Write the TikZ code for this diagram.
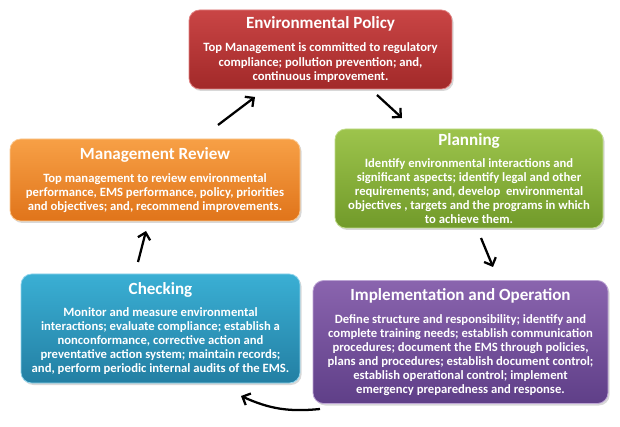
\documentclass[tikz,border=0pt]{standalone}
\usepackage{fontspec}
\setmainfont{Carlito}
\usetikzlibrary{arrows.meta,shadows}
\newcommand\boxtitle{\fontsize{12.8}{15}\selectfont}
\tikzset{
  stagebox/.style={rectangle, rounded corners=8pt, text=white, align=center,
    inner sep=0pt, font=\bfseries\fontsize{9.5}{10.5}\selectfont,
    drop shadow={opacity=0.3,shadow xshift=1.2pt,shadow yshift=-1.5pt}},
  flow/.style={line width=1.7pt, draw=black, -{Straight Barb[length=4.8pt,width=9.5pt]}},
}
\definecolor{redT}{HTML}{C94545}\definecolor{redB}{HTML}{A22929}\definecolor{redE}{HTML}{E08080}
\definecolor{grnT}{HTML}{9DC44C}\definecolor{grnB}{HTML}{719A2A}\definecolor{grnE}{HTML}{C0DC8A}
\definecolor{orgT}{HTML}{F7A046}\definecolor{orgB}{HTML}{E0741A}\definecolor{orgE}{HTML}{FAC890}
\definecolor{bluT}{HTML}{3AAFD4}\definecolor{bluB}{HTML}{237FA3}\definecolor{bluE}{HTML}{90D4EC}
\definecolor{purT}{HTML}{8A64AE}\definecolor{purB}{HTML}{5F3F88}\definecolor{purE}{HTML}{BCA4D4}
\begin{document}
\begin{tikzpicture}[x=0.75pt,y=-0.75pt]
\useasboundingbox (0,0) rectangle (620,427);
\fill[white] (0,0) rectangle (620,427);

\node[stagebox, top color=redT, bottom color=redB, draw=redE, line width=0.6pt,
  font=\bfseries\fontsize{9.5}{10.9}\selectfont,
  minimum width=197.25pt, minimum height=59.25pt] (policy) at (320.5,49.5)
  {{\boxtitle Environmental Policy}\\[6.8pt]
   Top Management is committed to regulatory\\
   compliance; pollution prevention; and,\\
   continuous improvement.};

\node[stagebox, top color=grnT, bottom color=grnB, draw=grnE, line width=0.6pt,
  minimum width=201pt, minimum height=74.25pt] (planning) at (469,178.5)
  {{\boxtitle Planning}\\[6.5pt]
   Identify environmental interactions and\\
   significant aspects; identify legal and other\\
   requirements; and, develop\ \ environmental\\
   objectives , targets and the programs in which\\
   to achieve them.};

\node[stagebox, top color=orgT, bottom color=orgB, draw=orgE, line width=0.6pt,
  minimum width=217.5pt, minimum height=61.5pt] (review) at (155,180)
  {{\boxtitle Management Review}\\[6.5pt]
   Top management to review environmental\\
   performance, EMS performance, policy, priorities\\
   and objectives; and, recommend improvements.};

\node[stagebox, top color=bluT, bottom color=bluB, draw=bluE, line width=0.6pt,
  minimum width=209.25pt, minimum height=81.75pt] (checking) at (160.5,328.5)
  {{\boxtitle Checking}\\[6.5pt]
   Monitor and measure environmental\\
   interactions; evaluate compliance; establish a\\
   nonconformance, corrective action and\\
   preventative action system; maintain records;\\
   and, perform periodic internal audits of the EMS.};

\node[stagebox, top color=purT, bottom color=purB, draw=purE, line width=0.6pt,
  minimum width=221.25pt, minimum height=92.25pt] (implement) at (460.5,342)
  {{\boxtitle Implementation and Operation}\\[6.5pt]
   Define structure and responsibility; identify and\\
   complete training needs; establish communication\\
   procedures; document the EMS through policies,\\
   plans and procedures; establish document control;\\
   establish operational control; implement\\
   emergency preparedness and response.};

\coordinate (a1s) at (218,125); \coordinate (a1e) at (255,97);
\coordinate (a2s) at (377,95);  \coordinate (a2e) at (402,118);
\coordinate (a3s) at (481,238); \coordinate (a3e) at (493,267);
\coordinate (a4s) at (320,409); \coordinate (a4e) at (241,396);
\coordinate (a5s) at (138,262); \coordinate (a5e) at (146,231);

\draw[flow] (a1s) -- (a1e);
\draw[flow] (a2s) -- (a2e);
\draw[flow] (a3s) -- (a3e);
\draw[flow] (a4s) to[bend left=15] (a4e);
\draw[flow] (a5s) -- (a5e);
\end{tikzpicture}
\end{document}
